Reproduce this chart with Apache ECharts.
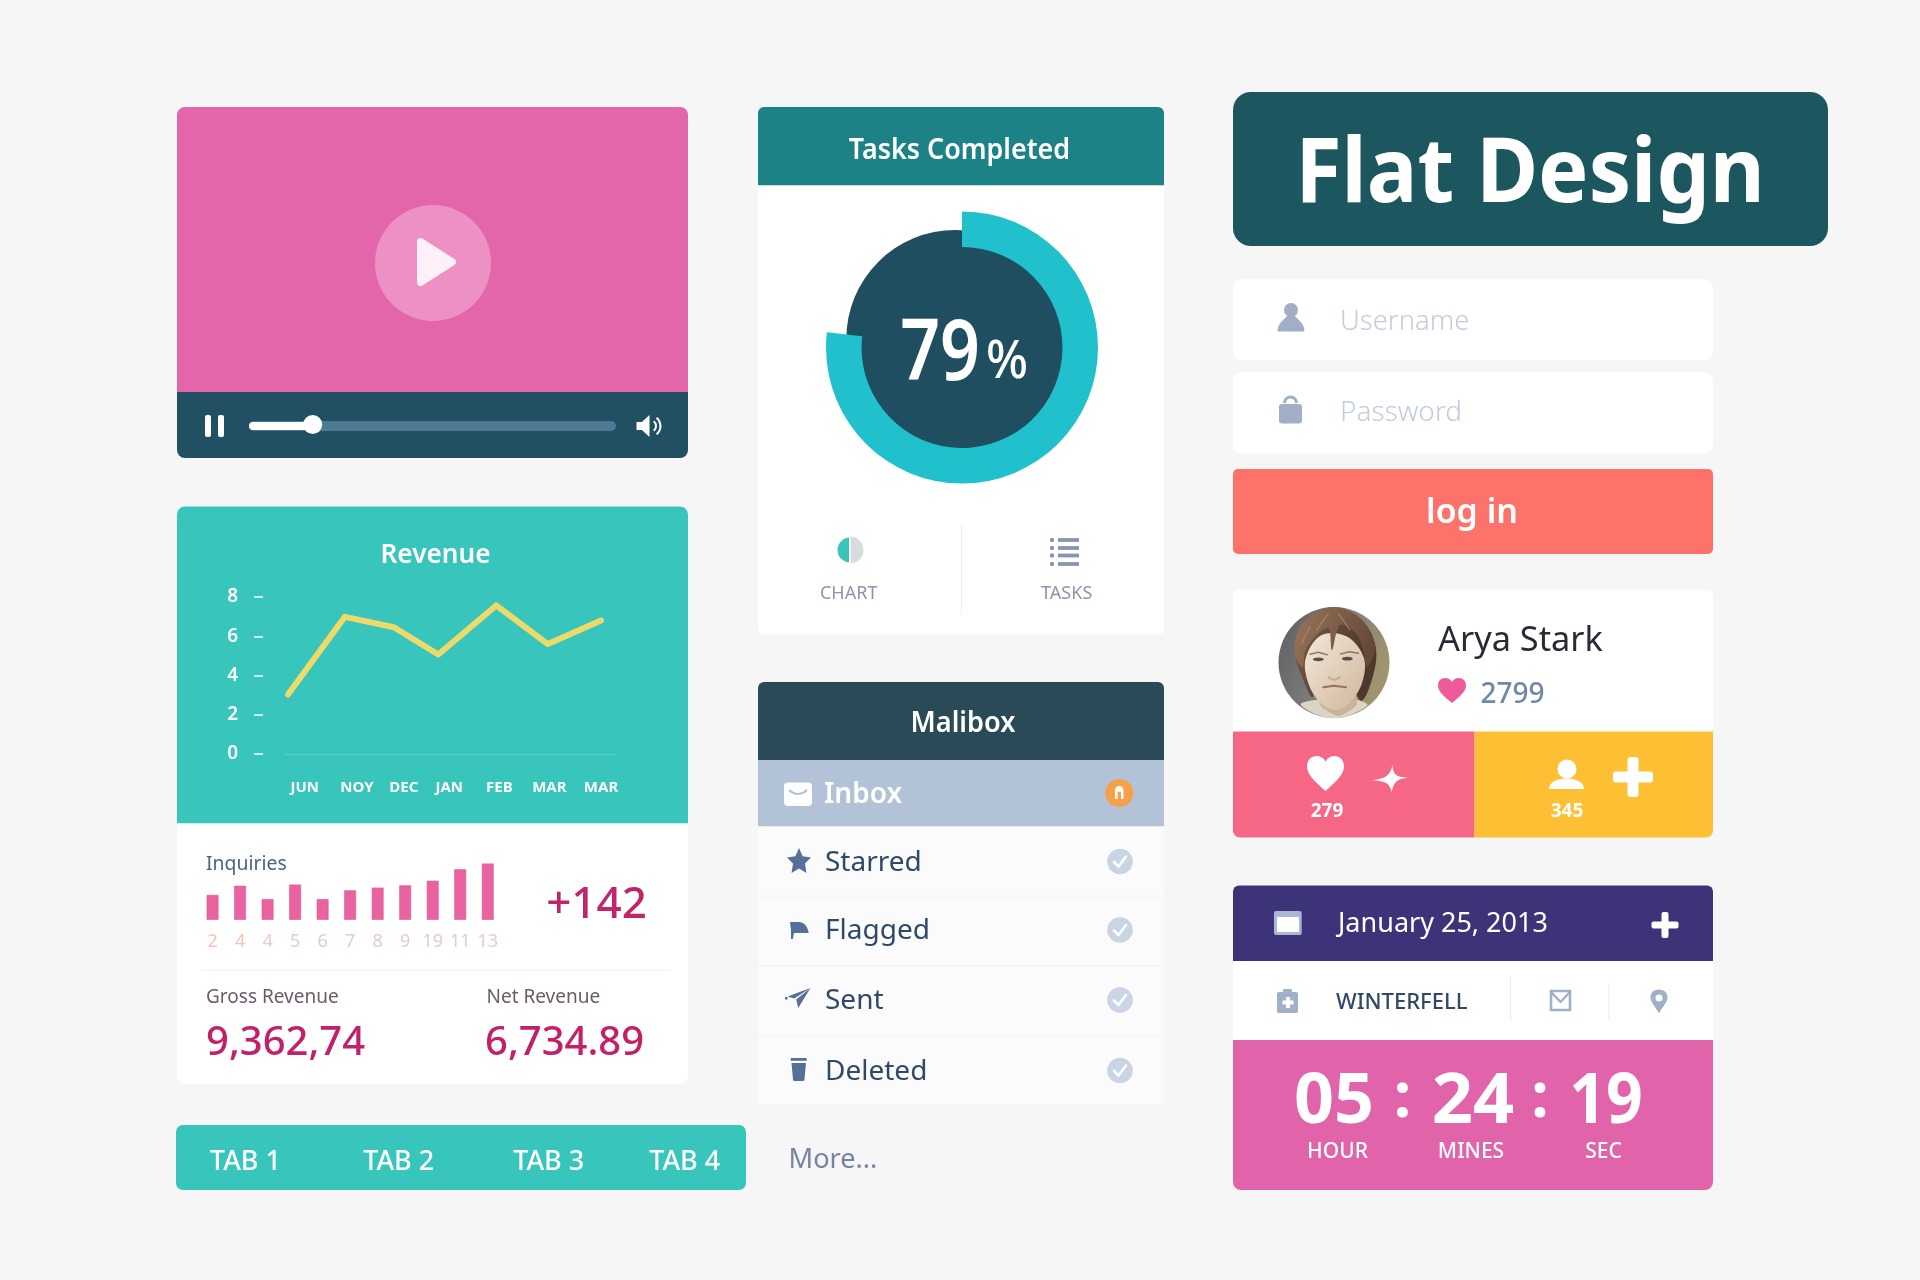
<!DOCTYPE html>
<html><head><meta charset="utf-8"><style>html,body{margin:0;padding:0;background:#f6f6f7}#c{width:1920px;height:1280px}</style>
<script src="https://cdn.jsdelivr.net/npm/echarts@6/dist/echarts.min.js"></script></head><body><div id="c"></div>
<script>
// ---- data ----
const revenueMonths = ['JUN','NOY','DEC','JAN','FEB','MAR','MAR'];
const revenueX = [0, 1.09, 2.03, 2.88, 3.99, 4.98, 6];
const revenueY = [3.03, 6.99, 6.46, 5.07, 7.57, 5.6, 6.8];
const revenueLabelAt = [0.32, 1.32, 2.22, 3.09, 4.05, 5.01, 6];
const inquiryLabels = ['2','4','4','5','6','7','8','9','19','11','13'];
const inquiryValues = [65, 89, 54, 92, 54, 77, 84, 90, 102, 132, 147];
const ringShare = [76.8, 23.2];
const tasksLabel = '79';
const FF = '"Noto Sans"';

// ---- drawing helpers for the UI furniture ----
const g = [];
const rect = (x,y,w,h,fill,r=0,extra={}) => g.push({type:'rect',shape:{x,y,width:w,height:h,r},style:{fill,...extra},silent:true});
const circle = (cx,cy,r,fill,z=0) => g.push({type:'circle',shape:{cx,cy,r},style:{fill},z,silent:true});
function txt(text,x,y,size,fill,weight=400,align='left',sx=1,z=10){
  g.push({type:'text',x,y,scaleX:sx,z,silent:true,style:{text,x:0,y:0,fill,font:`${weight} ${size}px ${FF}`,align,verticalAlign:'middle',textAlign:align,textVerticalAlign:'middle'}});
}
let iconId = 0;
const path = (d,x,y,w,h,fill,z=1,extra={}) => {
  const Clz = echarts.graphic.extendPath(d,{});
  const name = 'icon'+(iconId++);
  echarts.graphic.registerShape(name,Clz);
  const b = new Clz().getBoundingRect();
  const sx = w/b.width, sy = h/b.height;
  g.push({type:name,z,silent:true,x:x-b.x*sx,y:y-b.y*sy,scaleX:sx,scaleY:sy,style:{fill,...extra}});
};
const poly = (points,fill,smooth=0,z=1,extra={}) => g.push({type:'polygon',z,silent:true,shape:{points,smooth},style:{fill,...extra}});
const line = (points,stroke,lineWidth,z=1,opacity=1) => g.push({type:'polyline',z,silent:true,shape:{points},style:{stroke,lineWidth,opacity,fill:'none',lineCap:'round',lineJoin:'round'}});
const arc = (cx,cy,r,a,b,stroke,lineWidth) => g.push({type:'arc',z:1,silent:true,shape:{cx,cy,r,startAngle:a,endAngle:b},style:{stroke,lineWidth,fill:'none'}});
const HEART='M50 90C20 65 0 48 0 26C0 10 12 0 26 0C36 0 45 5 50 14C55 5 64 0 74 0C88 0 100 10 100 26C100 48 80 65 50 90Z';
const grad = (x,y,x2,y2,a,b) => ({type:'linear',x,y,x2,y2,colorStops:[{offset:0,color:a},{offset:1,color:b}]});

// video
rect(177,107,511,285,'#e365aa',[8,8,0,0]);
rect(177,392,511,66,'#205062',[0,0,8,8]);
circle(433,263,58,'#ed91c4');
poly([[420.5,241.5],[452.5,262],[420.5,282.5]],'#fef0f8',0,2,{stroke:'#fef0f8',lineWidth:7,lineJoin:'round'});
rect(205,415,6,22,'#fff',2); rect(218,415,6,22,'#fff',2);
rect(249,421,367,10,'#4f7a96',5);
rect(249,422,64,8,'#fff',4);
circle(312.7,424.5,9.5,'#fff',1);
path('M0 7H5L12 0V22L5 15H0Z',636.5,415,13,22,'#fff');
arc(650,426,6,-0.9,0.9,'#fff',2); arc(650,426,10.5,-0.9,0.9,'#fff',2);

// revenue
rect(177,506.5,511,317,'#38c5bb',[8,8,0,0]);
rect(177,823.5,511,260.5,'#fff',[0,0,8,8]);
txt('Revenue',435.5,555.5,27,'#fff',600,'center',.97);
txt('Inquiries',206,864.5,20,'#4e6283',400,'left',.97);
txt('+142',596.5,905,44,'#c2246b',500,'center');
rect(202,969.5,468,1,'#efefef');
txt('Gross Revenue',206,997.5,19,'#6d5a6a',400);
txt('Net Revenue',486.5,997.5,19,'#6d5a6a',400);
txt('9,362,74',206,1044,40,'#c2216a',500);
txt('6,734.89',485,1044,40,'#c2216a',500);

// tabs
rect(176,1125,570,65,'#38c5bb',7);
[['TAB 1',245.4],['TAB 2',398.7],['TAB 3',548.7],['TAB 4',684.7]].forEach(t=>txt(t[0],t[1],1162,27,'#fff',500,'center',1));

// tasks
rect(758,107,406,78.5,'#1d8285',[6,6,0,0]);
rect(758,185.5,406,449,'#fff',[0,0,6,6]);
txt('Tasks Completed',959.5,151,28,'#fff',600,'center',.96);
circle(955.3,339,109,'#1f4e61');
circle(962,347.5,104,'#1f4e61');
txt(tasksLabel,940,356,85,'#fff',600,'center',.82);
txt('%',1007,363,52,'#fff',500,'center',.95);
g.push({type:'sector',silent:true,shape:{cx:850,cy:550,r:12.5,r0:0,startAngle:Math.PI/2,endAngle:Math.PI*1.5},style:{fill:'#3bc4bc'}});
g.push({type:'sector',silent:true,shape:{cx:850,cy:550,r:13.5,r0:0,startAngle:-Math.PI/2,endAngle:Math.PI/2},style:{fill:'#d9dcdf'}});
rect(849,536,1.6,28,'#fff');
txt('CHART',848.7,593.5,18,'#8d95ab',400,'center');
rect(961,523.5,1,91,'#efefef');
[540,548,555.5,564].forEach(y=>{circle(1052,y,2.2,'#8a94ad');rect(1058,y-1.9,21,3.8,'#8a94ad');});
txt('TASKS',1066.7,593.5,18,'#8d95ab',400,'center');

// mailbox
rect(758,682,406,78,'#2b4a57',[6,6,0,0]);
txt('Malibox',963,724.5,28,'#fff',600,'center',.97);
rect(758,760,406,66.5,'#b2c3d8');
[[826.5,69],[897,68],[967,67.5],[1036.5,68]].forEach(r=>rect(758,r[0],406,r[1],'#fbfbfc'));
rect(784,782.5,28,23.5,'#fff',4);
g.push({type:'bezierCurve',z:1,silent:true,shape:{x1:789,y1:790,x2:807,y2:790,cpx1:798,cpy1:798},style:{stroke:'#b2c3d8',lineWidth:2,fill:'none'}});
txt('Inbox',824,795.5,28,'#fff',600);
circle(1119.3,793,14,'#f6a04a');
path('M0 16V6C0 0 10 0 10 6V16H7V8H3V16Z',1115,786,8.5,13,'#fff');
[['Starred',861.5],['Flagged',930],['Sent',1000],['Deleted',1070.5]].forEach(r=>{
  txt(r[0],825,r[1]+1.5,28,'#2f4a68',400);
  circle(1120,r[1],12.8,'#c9d5e4');
  line([[1114,r[1]+.5],[1118.5,r[1]+5],[1126,r[1]-5]],'#fff',2.6);
});
path('M50 0L65 33L100 38L75 62L81 100L50 82L19 100L25 62L0 38L35 33Z',787,848,24,25,'#557199');
path('M0 0H9C15 0 18 5 19 11H4L3 17H1L1 8Z',790,922,18.7,17,'#557199');
path('M100 0L10 42L36 52ZM100 0L44 58L52 100Z',787.5,988,23,20,'#557199');
rect(785,997,2.5,2.5,'#557199');
rect(790.7,1058,16,2.8,'#557199');
path('M1 0H15L13.5 18Q13.4 19 12 19H4Q2.6 19 2.5 18Z',791.5,1063,14.5,18,'#557199');
txt('More...',788.5,1160,28,'#76859f',400,'left',.97);

// title and login
rect(1233,92,595,154,'#1c565e',18);
txt('Flat Design',1530,176,90,'#fff',700,'center',.94);
rect(1233,279.5,480,80.5,'#fff',8);
rect(1233,372.5,480,81,'#fff',8);
circle(1291,310,7,'#a1aec5');
path('M0 100C0 50 20 30 35 0H65C80 30 100 50 100 100Z',1277.5,316,27,15.5,'#a1aec5');
txt('Username',1340,322.5,28,'#c3cbdd',300,'left',.98);
rect(1279,404,23,19.5,'#a1aec5',3);
arc(1290.5,403,6,Math.PI,2*Math.PI,'#a1aec5',3);
txt('Password',1340,413.5,28,'#c3cbdd',300);
rect(1233,469,480,85,'#fd726a',5);
txt('log in',1472,513.5,35,'#fff',600,'center',.97);

// profile
rect(1233,590,480,142,'#fff',[6,6,0,0]);
rect(1233,731.5,241.5,106,'#f56785',[0,0,0,7]);
rect(1474.5,731.5,238.5,106,'#fdbf33',[0,0,7,0]);
// portrait, drawn from simple shapes
const P = a => a.map(p=>[1260+p[0]/3,590+p[1]/3]);
g.push({type:'circle',silent:true,z:1,shape:{cx:1334,cy:662.5,r:55.5},style:{fill:{type:'linear',x:0,y:0,x2:1,y2:0.4,colorStops:[{offset:0,color:'#5b5e60'},{offset:.55,color:'#7d7e7b'},{offset:1,color:'#a0946f'}]}}});
poly(P([[122,342],[190,328],[290,330],[322,345],[270,376],[220,385],[165,372]]),'#dcd4c6',.3,2);
poly(P([[190,300],[280,300],[290,345],[235,378],[180,345]]),'#c9b49b',.2,2);
poly(P([[108,200],[128,110],[210,53],[300,85],[347,170],[337,265],[302,332],[250,220],[170,220],[158,322],[122,250]]),grad(0,0,1,.3,'#7a5a45','#4d382c'),.35,2);
poly(P([[137,205],[185,135],[262,140],[312,205],[304,285],[262,345],[224,360],[178,335],[145,280]]),grad(0,.2,1,.8,'#f0e3d3','#d2bca3'),.35,3);
poly(P([[104,190],[122,108],[210,52],[300,84],[346,170],[320,232],[312,190],[288,130],[240,105],[216,180],[205,115],[165,140],[135,185],[128,232]]),grad(0,0,1,.5,'#9a755a','#64493a'),.35,4);
line(P([[150,110],[125,160]]),'#b4906f',1.4,4,.6);
line(P([[205,70],[170,120]]),'#b4906f',1.4,4,.6);
line(P([[235,70],[270,120]]),'#b4906f',1.4,4,.6);
[[175,208],[262,206]].forEach(e=>g.push({type:'ellipse',silent:true,z:4,shape:{cx:1260+e[0]/3,cy:590+e[1]/3,rx:5.5,ry:1.9},style:{fill:'#57504a'}}));
line(P([[150,193],[175,187],[202,194]]),'#7a6350',1.5,4,.8);
line(P([[242,192],[268,185],[295,190]]),'#7a6350',1.5,4,.8);
line(P([[205,262],[222,270],[240,262]]),'#b89f86',1.8,4,.8);
line(P([[190,292],[222,287],[258,292]]),'#9a7263',2,4);
txt('Arya Stark',1438,641.5,34,'#2a2a35',400,'left',1.01);
path(HEART,1438,678,28,25,'#ee5b9a');
txt('2799',1480.5,695.5,28,'#6f89a6',500);
path(HEART,1307,756,37,35,'#fff');
path('M58 0C60 28 66 38 100 40C70 44 62 52 56 85C50 58 42 50 0 48C38 44 52 34 58 0Z',1371,765,37,27,'#fff');
txt('279',1327,812,19,'#fff',700,'center');
circle(1567,769,9.5,'#fff');
path('M0 100C0 30 25 0 50 0C75 0 100 30 100 100Z',1549,778.5,35,10.5,'#fff');
rect(1613,771.5,40,11,'#fff',3); rect(1627.5,757,11,40,'#fff',3);
txt('345',1567,812,19,'#fff',700,'center');

// date and timer
rect(1233,885.5,480,75.5,'#3c3379',[6,6,0,0]);
rect(1274,911,27.7,24,'#a9b6d4',2); rect(1277,917,22,15,'#fff',1);
txt('January 25, 2013',1338,924.5,27,'#fff',400);
rect(1651.5,921.5,27,7,'#fff',2); rect(1661.5,912,7,26,'#fff',2);
rect(1233,961,480,79,'#fff');
rect(1277,992,21,21,'#9fb0c8',2); rect(1283,989,9,4,'#9fb0c8',1);
rect(1286,997,4,11,'#fff'); rect(1282.5,1000.5,11,4,'#fff');
txt('WINTERFELL',1336,1002.5,22,'#2f4a68',500);
rect(1510,977,1,44,'#ebebeb'); rect(1608.5,983,1,38,'#ebebeb');
g.push({type:'rect',z:1,silent:true,shape:{x:1551,y:991,width:19,height:19},style:{fill:'none',stroke:'#9fb0c8',lineWidth:2.6}});
line([[1551,992],[1560.5,1002],[1570,992]],'#9fb0c8',2.4);
path('M50 100C30 70 0 55 0 32C0 12 22 0 50 0C78 0 100 12 100 32C100 55 70 70 50 100Z',1650.5,989.5,17,24,'#9fb0c8');
circle(1659,998,3.5,'#fff',2);
rect(1233,1040,480,150,'#e164ab',[0,0,8,8]);
[['05',1334,1],['24',1473,1.03],['19',1606,.92]].forEach(t=>txt(t[0],t[1],1103,70,'#fff',700,'center',t[2]));
[1402.5,1540].forEach(x=>txt(':',x,1099,62,'#fff',700,'center'));
[['HOUR',1337.5],['MINES',1471],['SEC',1603.5]].forEach(t=>txt(t[0],t[1],1152.5,21,'#fff',500,'center'));

const chart = echarts.init(document.getElementById('c'),null,{renderer:'canvas'});
chart.setOption({
  animation:false,
  backgroundColor:'#f6f6f7',
  graphic:{elements:g},
  grid:[
    {left:285,top:597,width:332,height:157,containLabel:false},
    {left:198.8,top:862.4,width:302.7,height:57.4,containLabel:false}
  ],
  xAxis:[
    {gridIndex:0,type:'value',min:-0.0575,max:6.306,z:5,splitLine:{show:false},axisTick:{show:false},
     axisLine:{show:true,lineStyle:{color:'rgba(255,255,255,.22)',width:1}},
     axisLabel:{customValues:revenueLabelAt,margin:26,color:'#fff',fontFamily:FF,fontWeight:700,fontSize:15,hideOverlap:false,
       formatter:v=>revenueMonths[revenueLabelAt.indexOf(v)]}},
    {gridIndex:1,type:'category',data:inquiryLabels,z:5,axisLine:{show:false},axisTick:{show:false},
     axisLabel:{interval:0,margin:13,fontFamily:FF,fontSize:18,fontWeight:400,hideOverlap:false,
       color:(v,i)=>i<2?'#f7c4b3':'#e4cccc'}}
  ],
  yAxis:[
    {gridIndex:0,type:'value',min:0,max:8,interval:2,offset:22,z:5,splitLine:{show:false},
     axisLine:{show:false,onZero:false},axisTick:{show:true,length:9,lineStyle:{color:'#fff',width:1.5}},
     axisLabel:{margin:25,color:'#fff',fontFamily:FF,fontWeight:600,fontSize:19}},
    {gridIndex:1,type:'value',min:0,max:150,show:false}
  ],
  series:[
    {type:'line',xAxisIndex:0,yAxisIndex:0,z:4,silent:true,symbol:'none',
     data:revenueX.map((x,i)=>[x,revenueY[i]]),
     lineStyle:{color:'#eeda6b',width:6,cap:'round',join:'round'}},
    {type:'bar',xAxisIndex:1,yAxisIndex:1,z:4,silent:true,barWidth:11.8,data:inquiryValues,
     itemStyle:{color:'#e8639f',borderColor:'#e2528f',borderWidth:.6}},
    {type:'pie',z:4,silent:true,center:[962,347.5],radius:[100.5,136],startAngle:90,clockwise:true,
     label:{show:false},labelLine:{show:false},emphasis:{disabled:true},
     data:[{value:ringShare[0],itemStyle:{color:'#20c0cd'}},{value:ringShare[1],itemStyle:{color:'rgba(0,0,0,0)'}}]}
  ]
});
</script></body></html>
